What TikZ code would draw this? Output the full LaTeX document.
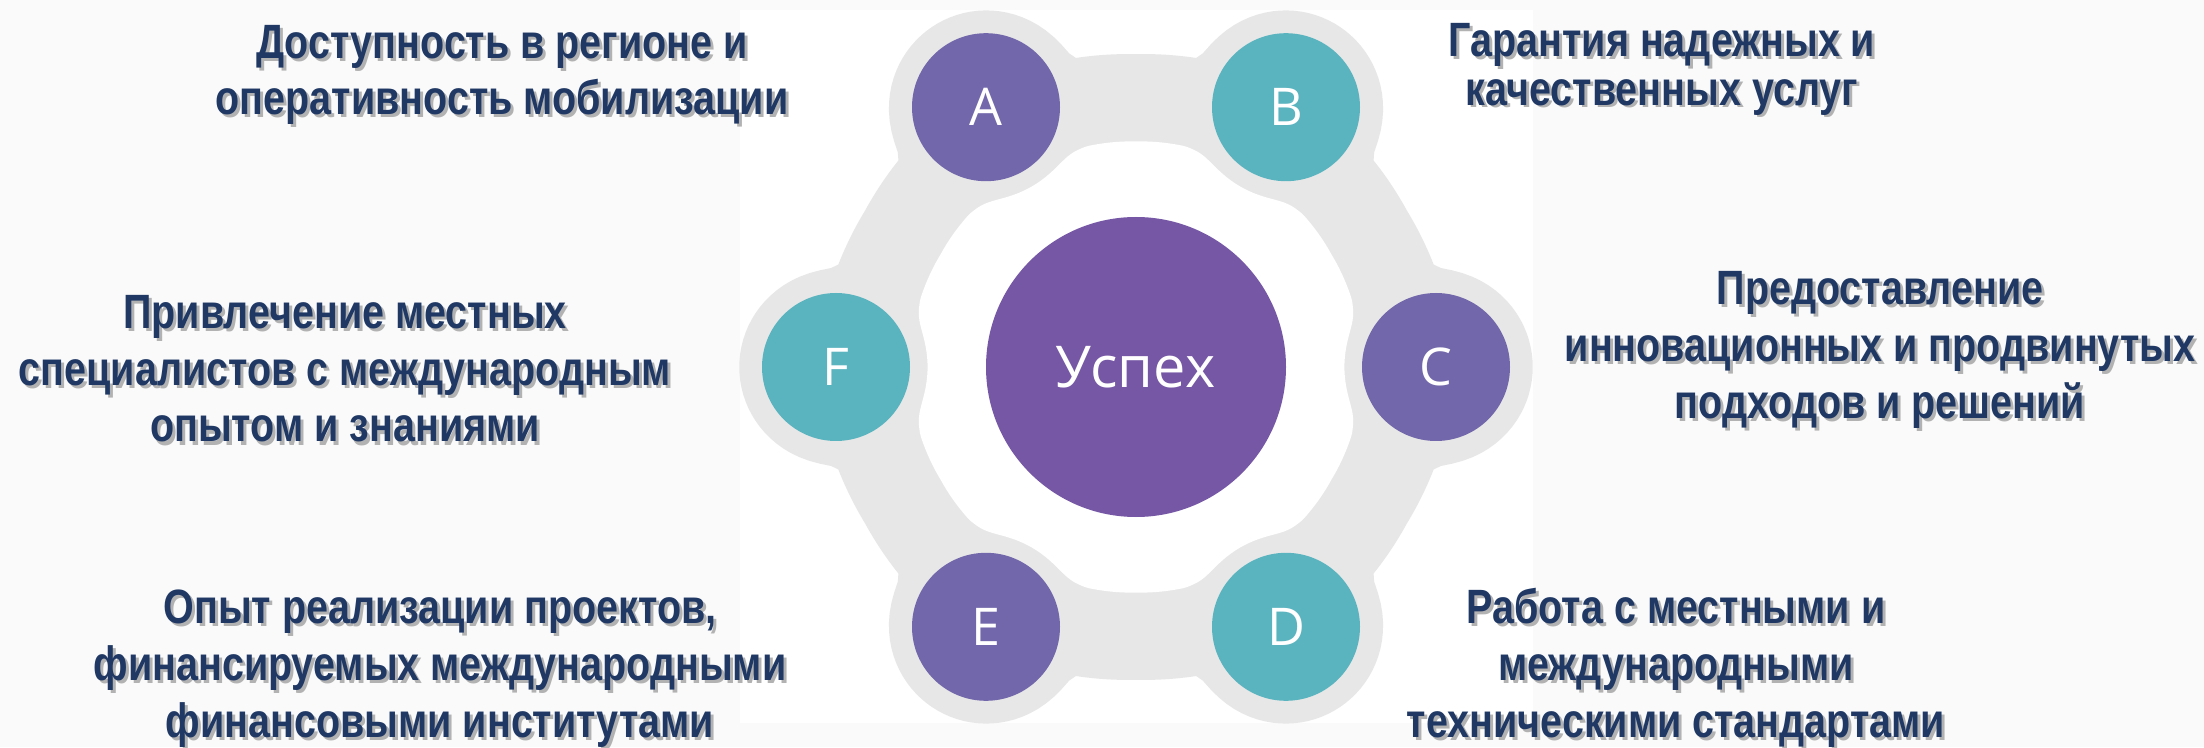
\documentclass[tikz,border=0pt]{standalone}
\usepackage{fontspec}
\setmainfont{Liberation Sans}
\newfontfamily\lblfont{Liberation Sans}[FakeStretch=0.82]
\newfontfamily\letterfont{Open Sans}
\usetikzlibrary{calc}

\definecolor{navy}{HTML}{1F3864}
\definecolor{violet1}{HTML}{7267AA}
\definecolor{violet2}{HTML}{7557A5}
\definecolor{teal1}{HTML}{5AB4C0}
\definecolor{ringc}{HTML}{E7E7E7}
\definecolor{bgc}{HTML}{FAFAFA}

\begin{document}
\begin{tikzpicture}[
    declare function={
      ufold(\xa)=abs(mod(\xa+30,60)-30);
      hfar(\ua)=3*cos(\ua)+sqrt(max(0,0.9025-9*pow(sin(\ua),2)));
      hnear(\ua)=3*cos(\ua)-sqrt(max(0,0.79-9*pow(sin(\ua),2)));
      rout(\xa)=(hfar(ufold(\xa))+3.10+sqrt(pow(hfar(ufold(\xa))-3.10,2)+0.06))/2;
      rin(\xa)=(hnear(ufold(\xa))+2.27-sqrt(pow(hnear(ufold(\xa))-2.27,2)+0.02))/2;
    },
    dot/.style={circle, minimum size=1.48cm, inner sep=0pt, text=white,
      font=\letterfont\fontsize{14.8pt}{16pt}\selectfont},
    uspeh/.style={circle, minimum size=3cm, inner sep=0pt, fill=violet2, text=white,
      font=\letterfont\fontsize{16.4pt}{19pt}\selectfont},
    lbl/.style={align=center, inner sep=0pt, anchor=base, text=navy,
      font=\lblfont\bfseries\fontsize{13.7pt}{#1}\selectfont},
    lblshadow/.style={lbl=#1, text=black!30}
  ]
  \useasboundingbox (0,0) rectangle (22.04,7.47);
  \fill[bgc] (0,0) rectangle (22.04,7.47);
  \fill[white] (7.40,0.24) rectangle (15.33,7.37);

  % gray ring behind the circles
  \coordinate (O) at (11.36,3.80);
  \fill[ringc, shift={(O)}] plot[domain=0:360, samples=361] (\x:{rout(\x)}) -- cycle;
  \fill[white, shift={(O)}] plot[domain=0:360, samples=361] (\x:{rin(\x)}) -- cycle;

  \node[uspeh] (U) at (O) {Успех};
  \node[dot, fill=violet1] (A) at ($(O)+(120:3)$) {A};
  \node[dot, fill=teal1] (B) at ($(O)+(60:3)$) {B};
  \node[dot, fill=violet1] (C) at ($(O)+(0:3)$) {C};
  \node[dot, fill=teal1] (D) at ($(O)+(-60:3)$) {D};
  \node[dot, fill=violet1] (E) at ($(O)+(-120:3)$) {E};
  \node[dot, fill=teal1] (F) at ($(O)+(180:3)$) {F};

  % labels, each with its shadow (placed by the last line)
  \node[lblshadow=16.2pt] (tl-s) at (5.05,6.29) {Доступность в регионе и\\оперативность мобилизации};
  \node[lbl=16.2pt] (tl) at (5.02,6.32) {Доступность в регионе и\\оперативность мобилизации};
  \node[lblshadow=13.7pt] (tr-s) at (16.65,6.39) {Гарантия надежных и\\качественных услуг};
  \node[lbl=13.7pt] (tr) at (16.62,6.42) {Гарантия надежных и\\качественных услуг};
  \node[lblshadow=16.2pt] (rm-s) at (18.83,3.26) {Предоставление\\инновационных и продвинутых\\подходов и решений};
  \node[lbl=16.2pt] (rm) at (18.80,3.29) {Предоставление\\инновационных и продвинутых\\подходов и решений};
  \node[lblshadow=16.2pt] (lm-s) at (3.48,3.02) {Привлечение местных\\специалистов с международным\\опытом и знаниями};
  \node[lbl=16.2pt] (lm) at (3.45,3.05) {Привлечение местных\\специалистов с международным\\опытом и знаниями};
  \node[lblshadow=16.2pt] (bl-s) at (4.43,0.07) {Опыт реализации проектов,\\финансируемых международными\\финансовыми институтами};
  \node[lbl=16.2pt] (bl) at (4.40,0.10) {Опыт реализации проектов,\\финансируемых международными\\финансовыми институтами};
  \node[lblshadow=16.2pt] (br-s) at (16.79,0.07) {Работа с местными и\\международными\\техническими стандартами};
  \node[lbl=16.2pt] (br) at (16.76,0.10) {Работа с местными и\\международными\\техническими стандартами};
\end{tikzpicture}
\end{document}
